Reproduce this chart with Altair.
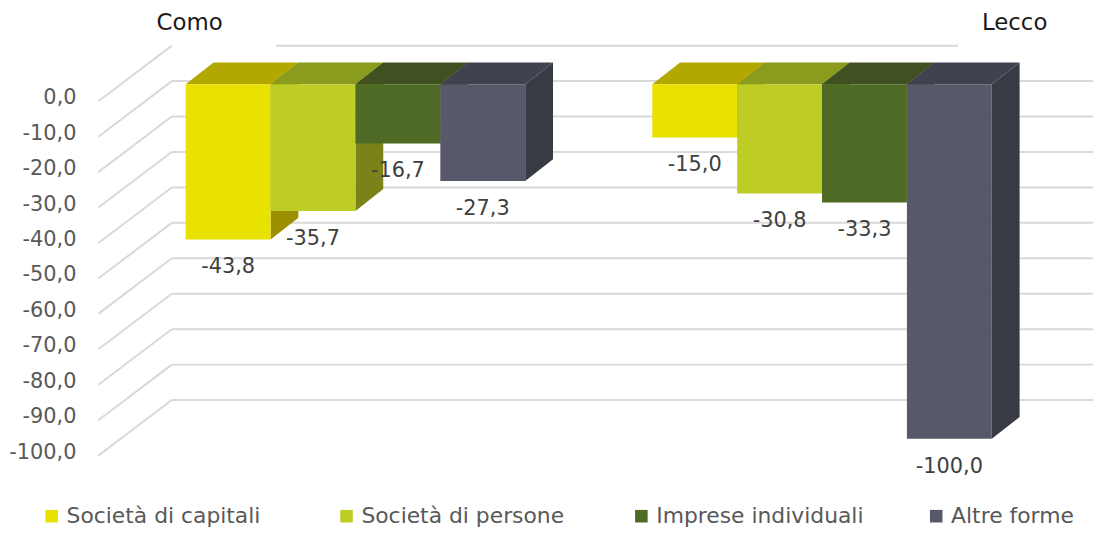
import altair as alt
import pandas as pd

# ---------------- data ----------------
GROUPS = ["Como", "Lecco"]
SERIES = ["Società di capitali", "Società di persone", "Imprese individuali", "Altre forme"]
COMO = [-43.8, -35.7, -16.7, -27.3]
LECCO = [-15.0, -30.8, -33.3, -100.0]
Y_TICKS = [0, -10, -20, -30, -40, -50, -60, -70, -80, -90, -100]

# ---------------- style / layout ----------------
FRONT = ["#e9e100", "#bdcd26", "#4f6a25", "#57586a"]
TOP = ["#b3a800", "#8b9b1e", "#3f5021", "#41424f"]
SIDE = ["#9c9000", "#7b8219", "#3b4e1c", "#383a44"]
FONT = "DejaVu Sans"
W, H = 1101, 525
Y0_PX = 75.0          # pixel row of the value 0 on the bar front faces
PPU = 3.57            # pixels per value unit
Y_DOMAIN = [(Y0_PX - H) / PPU, Y0_PX / PPU]
GROUP_X0 = [179, 649]
BAR_W = 85.5
DX = 28
DYU = 22 / PPU        # depth rise in value units
AXIS_X = 69
GRID_FRONT_X, GRID_BACK_X, GRID_END_X = 91, 165, 1093
GRID_FRONT_DV, GRID_BACK_DV = -4.76, 10.92
CAT_X = [183, 1014]
CAT_Y = 13

xs = alt.Scale(domain=[0, W], range=[0, W], nice=False, zero=False)
ys = alt.Scale(domain=Y_DOMAIN, nice=False, zero=False)

values = {"Como": COMO, "Lecco": LECCO}
fronts, sides, tops = [], [], []
for g, grp in enumerate(GROUPS):
    for i, s in enumerate(SERIES):
        v = values[grp][i]
        x0 = GROUP_X0[g] + i * BAR_W
        x1 = x0 + BAR_W
        fid = f"{grp}-{i}"
        fronts.append(dict(x0=x0, x1=x1, xc=(x0 + x1) / 2, y0=0, y1=v, series=s,
                           label=f"{v:.1f}".replace(".", ",")))
        sides += [dict(x=x1, y=0, y2=v, face=fid, fill=SIDE[i]),
                  dict(x=x1 + DX, y=DYU, y2=v + DYU, face=fid, fill=SIDE[i])]
        tops += [dict(x=x0, y=0, y2=0, face=fid, fill=TOP[i]),
                 dict(x=x0 + DX, y=DYU, y2=0, face=fid, fill=TOP[i]),
                 dict(x=x1, y=DYU, y2=0, face=fid, fill=TOP[i]),
                 dict(x=x1 + DX, y=DYU, y2=DYU, face=fid, fill=TOP[i])]
fronts = pd.DataFrame(fronts)
sides = pd.DataFrame(sides)
tops = pd.DataFrame(tops)

grid = []
for t in Y_TICKS:
    grid += [dict(x=GRID_FRONT_X, y=t + GRID_FRONT_DV, seg=f"s{t}"),
             dict(x=GRID_BACK_X, y=t + GRID_BACK_DV, seg=f"s{t}")]
    if t == 0:
        grid += [dict(x=270, y=t + GRID_BACK_DV, seg=f"b{t}"),
                 dict(x=957, y=t + GRID_BACK_DV, seg=f"b{t}")]
    else:
        grid += [dict(x=GRID_BACK_X, y=t + GRID_BACK_DV, seg=f"b{t}"),
                 dict(x=GRID_END_X, y=t + GRID_BACK_DV, seg=f"b{t}")]
grid = pd.DataFrame(grid)

ticks = pd.DataFrame({"v": Y_TICKS, "label": [f"{t:.1f}".replace(".", ",") for t in Y_TICKS]})
cats = pd.DataFrame({"name": GROUPS, "x": CAT_X})

gridlines = alt.Chart(grid).mark_line(color="#d9d9d9", strokeWidth=2).encode(
    x=alt.X("x:Q", scale=xs, axis=None),
    y=alt.Y("y:Q", scale=ys, axis=None),
    detail="seg:N",
)

side_layer = alt.Chart(sides).mark_area(orient="vertical", interpolate="linear").encode(
    x=alt.X("x:Q", scale=xs, axis=None),
    y=alt.Y("y:Q", scale=ys, axis=None, stack=None),
    y2="y2:Q",
    detail="face:N",
    fill=alt.Fill("fill:N", scale=None),
)

top_layer = alt.Chart(tops).mark_area(orient="vertical", interpolate="linear").encode(
    x=alt.X("x:Q", scale=xs, axis=None),
    y=alt.Y("y:Q", scale=ys, axis=None, stack=None),
    y2="y2:Q",
    detail="face:N",
    fill=alt.Fill("fill:N", scale=None),
)

front_layer = alt.Chart(fronts).mark_rect().encode(
    x=alt.X("x0:Q", scale=xs, axis=None),
    x2="x1:Q",
    y=alt.Y("y0:Q", scale=ys, axis=None),
    y2="y1:Q",
    color=alt.Color(
        "series:N",
        scale=alt.Scale(domain=SERIES, range=FRONT),
        sort=SERIES,
        legend=alt.Legend(
            title=None, orient="none", legendX=33, legendY=499, direction="horizontal",
            columns=4, symbolType="square", symbolSize=160, symbolStrokeWidth=0,
            labelFont=FONT, labelFontSize=22, labelColor="#595959",
            columnPadding=62, gridAlign="all", labelOffset=4, labelLimit=400,
        ),
    ),
)

data_labels = alt.Chart(fronts).mark_text(
    font=FONT, fontSize=21, color="#404040", baseline="middle", align="center", dy=28
).encode(
    x=alt.X("xc:Q", scale=xs, axis=None),
    y=alt.Y("y1:Q", scale=ys, axis=None),
    text="label:N",
)

axis_labels = alt.Chart(ticks).mark_text(
    font=FONT, fontSize=21, color="#595959", baseline="middle", align="right", dy=14
).encode(
    x=alt.value(AXIS_X),
    y=alt.Y("v:Q", scale=ys, axis=None),
    text="label:N",
)

cat_labels = alt.Chart(cats).mark_text(
    font=FONT, fontSize=23, color="#1a1a1a", baseline="middle", align="center"
).encode(
    x=alt.X("x:Q", scale=xs, axis=None),
    y=alt.value(CAT_Y),
    text="name:N",
)

chart = alt.layer(
    gridlines, side_layer, top_layer, front_layer, data_labels, axis_labels, cat_labels
).properties(
    width=W, height=H, padding=0, autosize=alt.AutoSizeParams(type="none"),
    background="white",
).configure_view(stroke=None)

chart.save("out.html", embed_options={"renderer": "svg", "actions": False})
